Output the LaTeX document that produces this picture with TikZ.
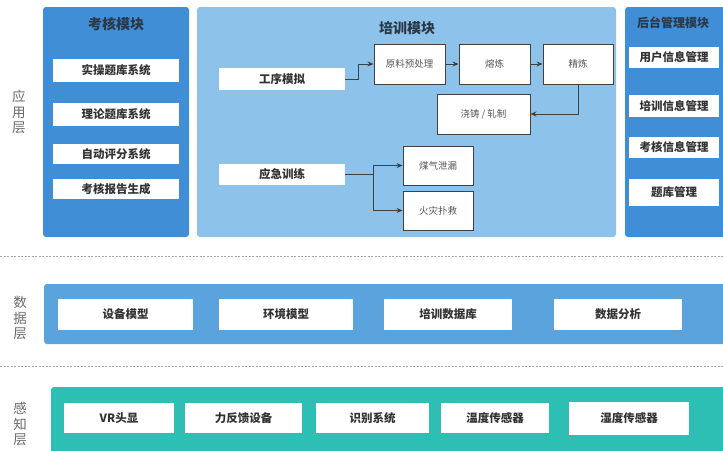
\documentclass[tikz,border=0pt]{standalone}
\usepackage{fontspec}
\setmainfont{Noto Sans CJK SC}
\usetikzlibrary{arrows.meta}

\definecolor{exampanel}{HTML}{3F8ED6}
\definecolor{trainpanel}{HTML}{8DC2EA}
\definecolor{datapanel}{HTML}{5BA3DC}
\definecolor{sensepanel}{HTML}{2DBFB4}
\definecolor{labeltext}{HTML}{333333}
\definecolor{titletext}{HTML}{2B3848}
\definecolor{flowtext}{HTML}{555555}
\definecolor{layertext}{HTML}{6A6A6A}

\begin{document}
\begin{tikzpicture}[
  x=1pt,
  y=-1pt,
  >={Stealth[length=6pt,width=5pt]},
  panel/.style={rounded corners=3pt, draw=none},
  module/.style={
    rectangle,
    fill=white,
    draw=none,
    inner sep=0pt,
    text=labeltext,
    font=\fontsize{11.5}{13}\selectfont\bfseries
  },
  stage/.style={
    rectangle,
    fill=white,
    draw=black!75,
    line width=0.9pt,
    inner sep=0pt,
    minimum width=70,
    minimum height=39,
    text=flowtext,
    font=\fontsize{9.5}{11}\selectfont
  },
  flow/.style={->, draw=black!75, line width=0.9pt},
  heading/.style={text=titletext, font=\fontsize{14}{16}\selectfont\bfseries},
  layer/.style={text=layertext, align=center, font=\fontsize{13.5}{15.5}\selectfont},
  divider/.style={draw=gray!70, dash pattern=on 2pt off 1.5pt, line width=0.6pt}
]
\useasboundingbox (0,0) rectangle (723,450);

% ---------------------------------------------------------------------------
% Application layer
% ---------------------------------------------------------------------------
\node[layer] (lapp) at (19,112) {应\\用\\层};

% exam module
\path[panel, fill=exampanel] (43,7) rectangle (189,237);
\node[heading] (examtitle) at (116,24) {考核模块};
\node[module, minimum width=126, minimum height=23] (exam1) at (116,70.5) {实操题库系统};
\node[module, minimum width=126, minimum height=23] (exam2) at (116,114.5) {理论题库系统};
\node[module, minimum width=126, minimum height=20] (exam3) at (116,154) {自动评分系统};
\node[module, minimum width=126, minimum height=20] (exam4) at (116,189) {考核报告生成};

% training module
\path[panel, fill=trainpanel] (197,7) rectangle (616,237);
\node[heading] (traintitle) at (407,28) {培训模块};
\node[module, minimum width=126, minimum height=22] (gongxu) at (282,79) {工序模拟};
\node[module, minimum width=126, minimum height=21] (yingji) at (282,174.5) {应急训练};

\node[stage, minimum width=71, minimum height=40] (yuanliao) at (409.5,64) {原料预处理};
\node[stage, minimum width=71, minimum height=40] (ronglian) at (494.5,64) {熔炼};
\node[stage, minimum width=70, minimum height=40] (jinglian) at (578,64) {精炼};
\node[stage, minimum width=93, minimum height=40] (jiaozhu) at (483.5,114) {浇铸 / 轧制};
\node[stage] (meiqi) at (438,165.5) {煤气泄漏};
\node[stage] (huozai) at (438,210.5) {火灾扑救};

\draw[flow] (gongxu.east) -- ++(13,0) |- (yuanliao.west);
\draw[flow] (yuanliao) -- (ronglian);
\draw[flow] (ronglian) -- (jinglian);
\draw[flow] (jinglian.south) |- (jiaozhu.east);
\draw[draw=black!75, line width=0.9pt] (yingji.east) -- ++(28,0) coordinate (branch);
\draw[flow] (branch) |- (meiqi.west);
\draw[flow] (branch) |- (huozai.west);

% admin module
\path[panel, fill=exampanel] (625,7) rectangle (726,237);
\node[heading, font=\fontsize{12}{14}\selectfont\bfseries] (admintitle) at (673,23) {后台管理模块};
\node[module, minimum width=90, minimum height=21] (admin1) at (674,57.5) {用户信息管理};
\node[module, minimum width=90, minimum height=22] (admin2) at (674,106) {培训信息管理};
\node[module, minimum width=90, minimum height=21] (admin3) at (674,147.5) {考核信息管理};
\node[module, minimum width=90, minimum height=27] (admin4) at (674,192.5) {题库管理};

\draw[divider] (0,256) -- (723,256);

% ---------------------------------------------------------------------------
% Data layer
% ---------------------------------------------------------------------------
\node[layer] (ldata) at (20,318) {数\\据\\层};
\path[panel, fill=datapanel] (44,284) rectangle (726,344);
\node[module, minimum width=135, minimum height=31] (data1) at (125.5,314.5) {设备模型};
\node[module, minimum width=134, minimum height=31] (data2) at (286,314.5) {环境模型};
\node[module, minimum width=128, minimum height=31] (data3) at (448,314.5) {培训数据库};
\node[module, minimum width=128, minimum height=31] (data4) at (618,314.5) {数据分析};

\draw[divider] (0,366) -- (723,366);

% ---------------------------------------------------------------------------
% Perception layer
% ---------------------------------------------------------------------------
\node[layer] (lsense) at (20,424) {感\\知\\层};
\path[panel, fill=sensepanel] (51,387) rectangle (726,456);
\node[module, minimum width=110, minimum height=30] (sense1) at (119,418) {VR头显};
\node[module, minimum width=117, minimum height=30] (sense2) at (243.5,418) {力反馈设备};
\node[module, minimum width=113, minimum height=30] (sense3) at (372.5,418) {识别系统};
\node[module, minimum width=108, minimum height=30] (sense4) at (495,418) {温度传感器};
\node[module, minimum width=120, minimum height=33] (sense5) at (629,418.5) {湿度传感器};

\end{tikzpicture}
\end{document}
